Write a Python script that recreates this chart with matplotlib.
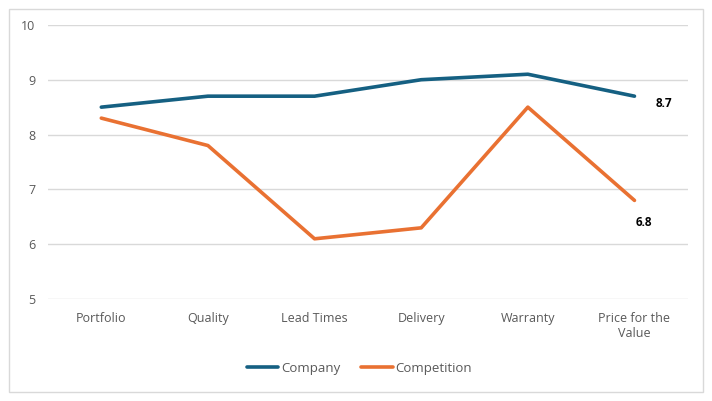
import matplotlib.pyplot as plt
from matplotlib.patches import Rectangle

categories = ["Portfolio", "Quality", "Lead Times", "Delivery", "Warranty", "Price for the\nValue"]
company = [8.5, 8.7, 8.7, 9.0, 9.1, 8.7]
competition = [8.3, 7.8, 6.1, 6.3, 8.5, 6.8]

plt.rcParams["font.family"] = ["Open Sans", "DejaVu Sans"]
text_color = "#595959"

fig = plt.figure(figsize=(7.12, 4.01), dpi=100)
ax = fig.add_axes([0.0674, 0.254, 0.8986, 0.684])

x = list(range(len(categories)))
ax.plot(x, company, color="#156082", linewidth=2.6, label="Company", solid_capstyle="round")
ax.plot(x, competition, color="#E97132", linewidth=2.6, label="Competition", solid_capstyle="round")

ax.annotate(f"{company[-1]}", (x[-1], company[-1]), xytext=(21.5, -5), textcoords="offset points",
            ha="center", va="center", fontsize=8.5, fontweight="bold", color="black")
ax.annotate(f"{competition[-1]}", (x[-1], competition[-1]), xytext=(7, -16), textcoords="offset points",
            ha="center", va="center", fontsize=8.5, fontweight="bold", color="black")

ax.set_xlim(-0.5, len(categories) - 0.5)
ax.set_ylim(5, 10)
ax.set_yticks([5, 6, 7, 8, 9, 10])
ax.set_xticks(x)
ax.set_xticklabels(categories)
ax.grid(axis="y", color="#D9D9D9", linewidth=1)
ax.set_axisbelow(True)
for s in ax.spines.values():
    s.set_visible(False)
ax.tick_params(length=0, colors=text_color, labelsize=9)
ax.tick_params(axis="y", pad=9)
ax.tick_params(axis="x", pad=9)

ax.legend(loc="upper center", bbox_to_anchor=(0.487, -0.185), ncol=2, frameon=False,
          fontsize=9.5, labelcolor=text_color, handlelength=2.4, columnspacing=1.6, handletextpad=0.2)

fig.patches.append(Rectangle((9 / 712, 9 / 401), 694 / 712, 383 / 401, transform=fig.transFigure,
                             fill=False, edgecolor="#D9D9D9", linewidth=1))

fig.savefig("out.png", dpi=100)
